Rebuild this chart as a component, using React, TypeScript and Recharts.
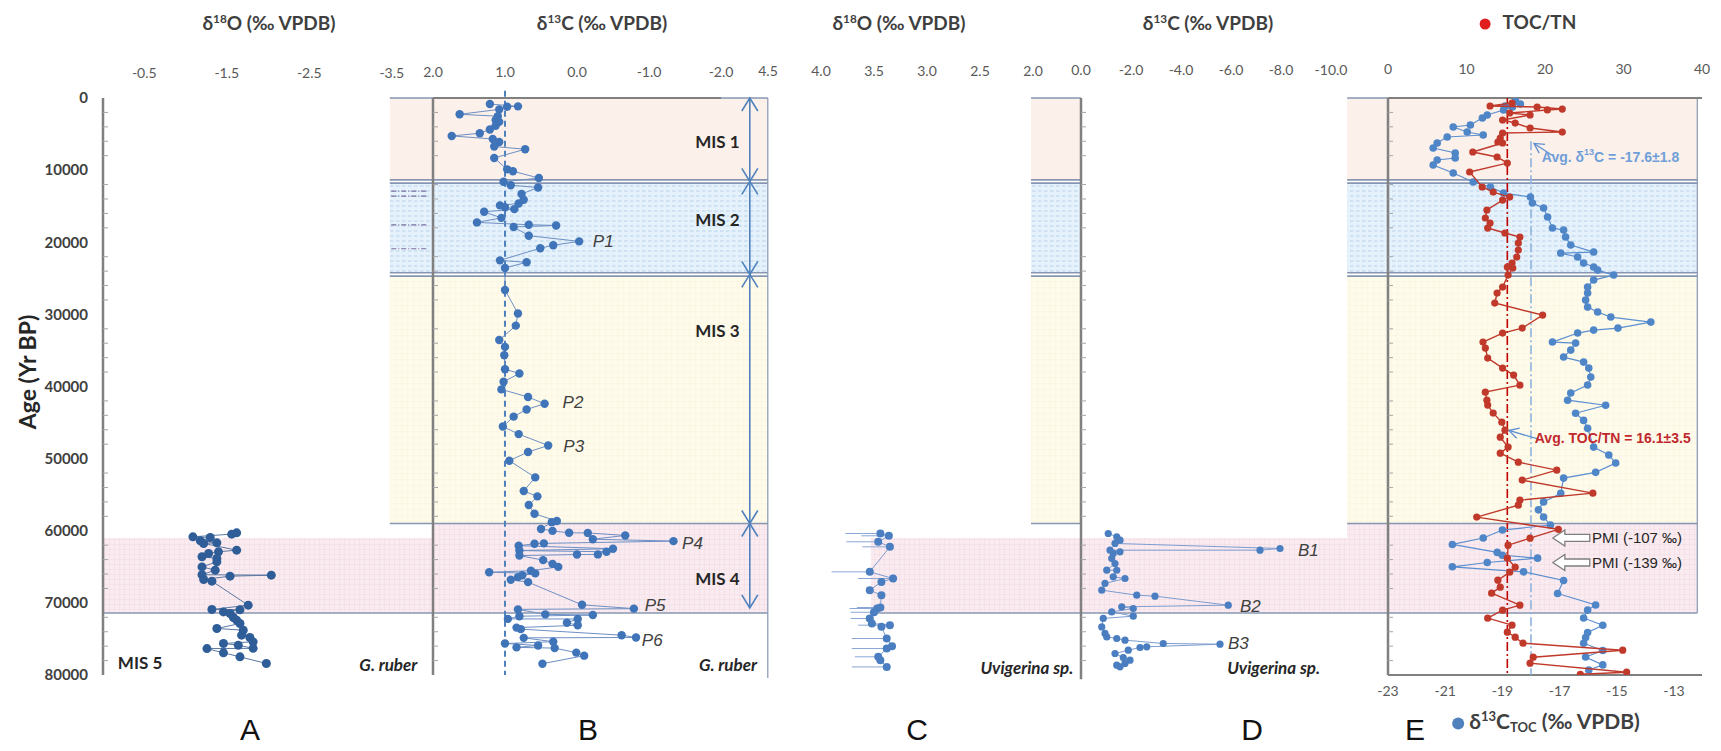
import React from 'react';
import {
  ComposedChart,
  Scatter,
  XAxis,
  YAxis,
  ReferenceArea,
  ReferenceLine,
  ReferenceDot,
  ErrorBar,
} from 'recharts';

// ---------- data ----------
// A: planktic d18O (G. ruber)
const ageA = [60290, 60470, 60840, 60930, 61400, 61680, 61760, 62690, 62920, 63150, 63610, 63840, 64310, 65010, 65460, 66100, 66160, 66300, 66760, 66990, 70320, 70920, 70950, 71250, 71470, 72030, 72400, 72860, 73550, 73790, 74480, 74800, 75400, 75630, 75870, 76300, 76340, 76930, 77480, 78410];
const d18oA = [-1.62, -1.56, -1.09, -1.3, -1.18, -1.38, -1.22, -1.62, -1.4, -1.28, -1.2, -1.38, -1.38, -1.2, -1.36, -1.2, -2.04, -1.54, -1.22, -1.32, -1.76, -1.32, -1.66, -1.46, -1.54, -1.58, -1.62, -1.66, -1.38, -1.7, -1.68, -1.78, -1.82, -1.46, -1.64, -1.82, -1.26, -1.46, -1.66, -1.98];

// B: planktic d13C (G. ruber)
const ageB = [840, 1160, 1210, 1580, 2260, 2520, 3050, 3310, 3840, 4370, 4890, 5260, 5680, 6100, 6730, 7100, 8310, 9890, 10150, 11100, 11620, 12100, 12410, 13310, 14100, 14620, 14890, 15150, 15410, 15780, 16620, 17250, 17570, 17670, 17880, 19090, 19880, 20410, 20830, 22510, 22780, 23560, 26620, 29880, 31560, 33560, 34510, 35660, 37610, 38190, 39340, 40400, 41450, 42400, 43180, 44180, 45550, 46600, 48180, 49080, 50290, 52600, 54490, 55230, 56440, 57650, 58650, 58810, 59750, 60020, 60280, 60300, 60650, 61170, 61440, 61750, 61810, 62070, 62490, 62750, 62910, 63280, 63300, 63440, 64070, 64590, 65010, 65540, 65750, 65910, 66170, 66430, 66800, 67120, 70270, 70800, 70900, 71590, 71690, 71850, 72220, 72240, 72750, 73110, 73430, 73640, 74480, 74800, 74850, 75380, 75640, 75900, 76170, 76270, 76900, 77320, 78430];
const d13cB = [1.21, 0.82, 0.97, 1.08, 1.63, 1.1, 1.13, 1.08, 1.13, 1.21, 1.35, 1.74, 1.17, 1.08, 1.15, 0.72, 1.15, 0.97, 0.89, 0.53, 1.02, 0.92, 0.54, 0.77, 0.74, 0.81, 1.07, 1.0, 0.87, 1.29, 1.05, 1.39, 0.67, 0.29, 0.88, 0.67, -0.03, 0.33, 0.51, 1.07, 0.7, 1.0, 1.0, 0.82, 0.85, 1.08, 1.0, 1.01, 1.0, 0.8, 1.02, 1.05, 0.68, 0.45, 0.7, 0.88, 1.03, 0.81, 0.4, 0.68, 0.94, 0.58, 0.74, 0.55, 0.67, 0.59, 0.28, 0.35, 0.5, 0.34, 0.11, -0.15, -0.67, -0.22, -1.34, 0.46, 0.59, 0.81, -0.5, 0.8, -0.41, -0.29, 0.0, 0.8, 0.47, 0.34, 0.26, 0.64, 1.22, 0.58, 0.76, 0.82, 0.92, 0.68, -0.07, -0.79, 0.82, 0.44, -0.22, 0.8, 0.96, -0.01, 0.14, -0.01, 0.84, 0.78, -0.62, -0.82, 0.74, 0.33, 1.0, 0.54, 0.84, 0.31, 0.01, -0.1, 0.48];

// C: benthic d18O (Uvigerina sp.), with the thin left whiskers
const ageC = [60380, 60700, 61530, 62230, 65700, 66620, 67090, 68240, 68930, 70640, 70780, 71300, 72170, 72860, 73090, 73320, 74940, 76000, 76330, 77480, 77950, 78880];
const d18oC = [3.44, 3.36, 3.46, 3.35, 3.54, 3.32, 3.43, 3.54, 3.43, 3.44, 3.47, 3.5, 3.54, 3.52, 3.35, 3.43, 3.38, 3.33, 3.38, 3.46, 3.44, 3.38];
const spreadC = [0.33, 0.26, 0.3, 0.26, 0.36, 0.33, 0, 0, 0, 0.22, 0.26, 0.22, 0.18, 0, 0.3, 0, 0.33, 0, 0.33, 0.22, 0, 0.33];

// D: benthic d13C (Uvigerina sp.)
const ageD = [60380, 60840, 61300, 61760, 62460, 62690, 62700, 62920, 63150, 63840, 64540, 65460, 65480, 66390, 66620, 67310, 68240, 68930, 69070, 70320, 70550, 70780, 71250, 71840, 72160, 73330, 74240, 74720, 74940, 75170, 75630, 75730, 76090, 76190, 76560, 77020, 77580, 77950, 78400, 78640, 78870];
const d13cD = [-1.09, -1.43, -1.56, -1.36, -7.96, -7.16, -1.16, -1.56, -1.29, -1.23, -1.36, -1.03, -1.43, -1.29, -1.76, -0.96, -0.83, -2.23, -2.96, -5.89, -1.63, -2.09, -1.23, -2.09, -0.89, -0.83, -0.96, -1.03, -1.43, -1.76, -3.29, -5.56, -2.63, -2.36, -1.89, -1.36, -1.69, -1.96, -1.76, -1.43, -1.56];

// E: d13C TOC (blue) and TOC/TN (red)
const ageEc = [420, 830, 1110, 1250, 1660, 2360, 2770, 3740, 4020, 4720, 5130, 5410, 6240, 6930, 7630, 8320, 8600, 9290, 10400, 11650, 12340, 13180, 13730, 14560, 15260, 16500, 18030, 18310, 19280, 20390, 21360, 21500, 22050, 22890, 23440, 23860, 24550, 25240, 26210, 27050, 28020, 28990, 29680, 30370, 31070, 31900, 32180, 32590, 33840, 33980, 34950, 35920, 36620, 37450, 38700, 39800, 40900, 41900, 42600, 43700, 44700, 45800, 48400, 49500, 50600, 51900, 52700, 54800, 56000, 57100, 58100, 59200, 59900, 61000, 61900, 63000, 63400, 63800, 64400, 65000, 65700, 66900, 68700, 70300, 71000, 72100, 73100, 74100, 74800, 75600, 76600, 77500, 78600, 79300];
const d13cToc = [-18.54, -18.37, -18.9, -18.65, -18.96, -19.53, -19.7, -20.12, -20.72, -20.23, -19.67, -20.93, -21.28, -21.42, -20.65, -20.65, -21.28, -21.42, -20.72, -20.02, -19.42, -18.96, -18.02, -17.95, -17.56, -17.42, -17.25, -16.86, -16.79, -16.61, -15.81, -16.96, -16.37, -16.16, -15.81, -15.67, -15.11, -15.81, -16.02, -16.02, -16.09, -16.02, -15.67, -15.21, -13.81, -14.96, -15.81, -16.37, -17.25, -16.44, -16.61, -16.86, -16.16, -15.98, -15.91, -16.02, -16.61, -16.72, -15.39, -16.44, -16.16, -16.02, -15.81, -15.28, -15.04, -15.74, -16.86, -16.96, -17.56, -17.74, -17.56, -17.32, -19.0, -19.67, -20.75, -19.18, -19.0, -17.77, -19.53, -20.75, -18.26, -16.86, -17.07, -15.74, -16.02, -16.16, -15.49, -16.02, -16.09, -16.16, -15.49, -16.09, -15.49, -15.98];
const ageEr = [690, 1110, 1250, 1530, 1660, 2080, 2360, 3050, 3470, 4160, 4720, 4850, 5550, 6100, 6240, 7490, 8180, 9020, 10260, 12340, 13040, 13730, 14150, 15530, 16640, 17340, 18030, 18720, 19280, 20110, 21080, 22050, 22890, 23440, 23580, 24550, 26210, 27050, 28430, 30100, 31900, 32590, 33840, 34670, 36060, 37450, 38420, 39810, 40780, 41890, 42580, 43690, 44940, 46050, 47020, 48400, 49240, 50490, 51600, 52980, 54790, 55760, 56450, 58110, 59800, 61030, 62000, 63800, 65050, 65740, 66850, 67820, 68650, 70320, 71010, 72120, 73090, 74060, 74760, 75590, 76560, 77530, 78360, 79610, 79900];
const tocTn = [15.8, 13.0, 19.0, 22.2, 20.3, 15.5, 18.1, 14.6, 16.2, 18.1, 22.2, 14.6, 14.3, 14.0, 14.6, 10.8, 13.9, 15.2, 10.4, 12.0, 13.4, 15.5, 14.6, 12.6, 12.4, 13.0, 12.7, 14.9, 16.8, 16.6, 16.6, 16.4, 15.8, 15.2, 15.9, 15.3, 14.6, 13.9, 13.6, 19.7, 17.1, 14.6, 12.1, 12.4, 12.7, 14.6, 16.0, 16.8, 12.4, 12.6, 12.7, 13.4, 14.5, 14.9, 14.3, 15.3, 14.3, 16.6, 21.5, 17.1, 26.1, 16.8, 16.6, 11.3, 21.7, 18.1, 15.3, 15.2, 16.2, 15.5, 14.0, 14.3, 13.2, 16.8, 14.6, 12.7, 15.8, 15.2, 16.2, 17.2, 29.9, 18.5, 18.1, 30.4, 24.5];

// tick labels
const ticksAge = [0, 10000, 20000, 30000, 40000, 50000, 60000, 70000, 80000];
const minorAges = [2000, 4000, 6000, 8000, 12000, 14000, 16000, 18000, 22000, 24000, 26000, 28000, 32000, 34000, 36000, 38000, 42000, 44000, 46000, 48000, 52000, 54000, 56000, 58000, 62000, 64000, 66000, 68000, 72000, 74000, 76000, 78000];
const ticksA = [-0.5, -1.5, -2.5, -3.5];
const ticksB = [2, 1, 0, -1, -2];
const ticksC = [4.5, 4, 3.5, 3, 2.5, 2];
const ticksD = [0, -2, -4, -6, -8, -10];
const ticksEt = [0, 10, 20, 30, 40];
const ticksEb = [-23, -21, -19, -17, -15, -13];

// ---------- layout ----------
const W = 1721;
const H = 751;
// plot box is 103..1702 x 98..675; axes take 1px each (5 on top, 1 bottom, 1 left)
const margin = { top: 93, right: 19, bottom: 75, left: 102 };
const plotLeft = 103;
const plotW = 1599;

// every panel has its own x axis spread over the whole plot; value v0 lands on pixel px
const revDomain = (v0: number, px: number, ppu: number): [number, number] => {
  const hi = v0 + (px - plotLeft) / ppu;
  return [hi - plotW / ppu, hi];
};
const fwdDomain = (v0: number, px: number, ppu: number): [number, number] => {
  const lo = v0 - (px - plotLeft) / ppu;
  return [lo, lo + plotW / ppu];
};
const domA = revDomain(0, 103, 82.5);
const domB = revDomain(2, 433, 72);
const domC = revDomain(4.5, 768, 106);
const domD = revDomain(0, 1081, 25);
const domEt = fwdDomain(0, 1388, 7.85);
const domEb = fwdDomain(-23, 1388, 28.6);

const zip = (ages: number[], vals: number[]) =>
  ages.slice(0, Math.min(ages.length, vals.length)).map((age, i) => ({ age, v: vals[i] }));

const dataA = zip(ageA, d18oA);
const dataB = zip(ageB, d13cB);
const dataC = zip(ageC, d18oC).map((d, i) => ({ ...d, w: [0, spreadC[i] ?? 0] }));
const dataD = zip(ageD, d13cD);
const dataEc = zip(ageEc, d13cToc);
const dataEr = zip(ageEr, tocTn);
const minorAt = (v: number) => minorAges.map((age) => ({ age, v }));

const tickFont = { fontSize: 14, fill: '#595959', fontFamily: 'Lato, sans-serif' };
const f1 = (v: number) => v.toFixed(1);

const dot = (r: number, fill: string) => (p: any) => <circle cx={p.cx} cy={p.cy} r={r} fill={fill} />;
const minorTick = (p: any) => (
  <line x1={p.cx} y1={p.cy} x2={p.cx + 5} y2={p.cy} stroke="#a6a6a6" strokeWidth={1} />
);

const dblArrow = (p: any) => {
  const { x1, y1, x2, y2 } = p;
  const w = 8;
  const h = 13;
  return (
    <g stroke="#4f81bd" strokeWidth={1.6} fill="none">
      <line x1={x1} y1={y1} x2={x2} y2={y2} />
      <polyline points={`${x1 - w},${y1 + h} ${x1},${y1} ${x1 + w},${y1 + h}`} />
      <polyline points={`${x2 - w},${y2 - h} ${x2},${y2} ${x2 + w},${y2 - h}`} />
    </g>
  );
};

const thinArrow = (color: string) => (p: any) => {
  const { x1, y1, x2, y2 } = p;
  const a = Math.atan2(y2 - y1, x2 - x1);
  const L = 11;
  const s = 0.5;
  const w1 = `${x2 - L * Math.cos(a - s)},${y2 - L * Math.sin(a - s)}`;
  const w2 = `${x2 - L * Math.cos(a + s)},${y2 - L * Math.sin(a + s)}`;
  return (
    <g stroke={color} strokeWidth={1.3} fill="none">
      <line x1={x1} y1={y1} x2={x2} y2={y2} />
      <polyline points={`${w1} ${x2},${y2} ${w2}`} />
    </g>
  );
};

const hollowArrow = (p: any) => {
  const { x1, y1, x2 } = p;
  const y = y1;
  const hl = 12;
  const pts = [
    [x2, y],
    [x2 + hl, y - 8],
    [x2 + hl, y - 3.5],
    [x1, y - 3.5],
    [x1, y + 3.5],
    [x2 + hl, y + 3.5],
    [x2 + hl, y + 8],
  ]
    .map((q) => q.join(','))
    .join(' ');
  return <polygon points={pts} fill="#ffffff" stroke="#7f7f7f" strokeWidth={1.3} />;
};

const textAt =
  (content: React.ReactNode, style: React.CSSProperties, anchor: 'start' | 'middle' | 'end' = 'start') =>
  (p: any) => (
    <text x={p.cx} y={p.cy} textAnchor={anchor} dominantBaseline="central" style={style}>
      {content}
    </text>
  );

const misStyle = { fontSize: 17, fontWeight: 700, fill: '#262626', fontFamily: 'Lato, sans-serif' };
const pStyle = { fontSize: 17, fontStyle: 'italic', fill: '#404040', fontFamily: '"Liberation Sans", Arial, sans-serif' };
const spStyle = { fontSize: 17, fontStyle: 'italic', fontWeight: 700, fill: '#262626', fontFamily: 'Lato, sans-serif' };
const pmiStyle = { fontSize: 15, fill: '#262626', fontFamily: '"Liberation Sans", Arial, sans-serif' };

const bandLine = '#8797b2';
const axisGrey = '#808080';

// horizontal band segments in the three framed strips (B, D strip, E)
const frames: { id: string; x1: number; x2: number }[] = [
  { id: 'b', x1: 2.6, x2: -2.65 },
  { id: 'd', x1: 2, x2: 0 },
  { id: 'et', x1: -5.2, x2: 39.4 },
];
const bandRows = [
  { y1: 0, y2: 11350, fill: '#fcf0ea' },
  { y1: 11800, y2: 24230, fill: '#e5f1fb' },
  { y1: 24690, y2: 59000, fill: '#fefbeb' },
];
const boundaryAges = [0, 11350, 11800, 24230, 24690, 59000];

const Html = ({ x, y, style, children }: { x: number; y: number; style?: React.CSSProperties; children: React.ReactNode }) => (
  <div
    style={{
      position: 'absolute',
      left: x,
      top: y,
      transform: 'translate(-50%, -50%)',
      whiteSpace: 'nowrap',
      lineHeight: 1,
      ...style,
    }}
  >
    {children}
  </div>
);

const titleStyle: React.CSSProperties = { fontFamily: 'Lato, sans-serif', fontWeight: 700, fontSize: 19, color: '#3f3f3f' };
const letterStyle: React.CSSProperties = { fontFamily: '"Liberation Sans", Arial, sans-serif', fontSize: 30, color: '#111' };
const supS: React.CSSProperties = { fontSize: '0.62em', verticalAlign: '0.55em' };

const topAxis = {
  type: 'number' as const,
  dataKey: 'v',
  allowDataOverflow: true,
  orientation: 'top' as const,
  height: 1,
  interval: 0 as const,
  axisLine: false,
  tickLine: false,
  tickSize: 0,
  tickMargin: 20,
  tick: tickFont,
};

export default function App() {
  return (
    <div style={{ position: 'absolute', left: 0, top: 0, width: W, height: H, background: '#fff' }}>
      <ComposedChart width={W} height={H} margin={margin}>
        <defs>
          <pattern id="dots2" width="6" height="5" patternUnits="userSpaceOnUse">
            <rect x="0" y="0" width="3.5" height="2" fill="#cfe2f4" />
          </pattern>
          <pattern id="grid4" width="5" height="5" patternUnits="userSpaceOnUse">
            <path d="M5 0 V5 M0 5 H5" stroke="#efd6df" strokeWidth="0.8" fill="none" />
          </pattern>
          <pattern id="grid3" width="6" height="6" patternUnits="userSpaceOnUse">
            <path d="M6 0 V6 M0 6 H6" stroke="#f6efd2" strokeWidth="0.6" fill="none" />
          </pattern>
        </defs>

        <YAxis
          yAxisId="age"
          type="number"
          dataKey="age"
          domain={[0, 80000]}
          reversed
          allowDataOverflow
          width={1}
          ticks={ticksAge}
          interval={0}
          tickLine={false}
          tickSize={0}
          tickMargin={15}
          axisLine={{ stroke: axisGrey, strokeWidth: 2.5 }}
          tick={{ fontSize: 15, fill: '#404040', fontWeight: 700, fontFamily: 'Lato, sans-serif' }}
        />
        <XAxis xAxisId="a" {...topAxis} domain={domA} reversed ticks={ticksA} tickFormatter={f1} />
        <XAxis xAxisId="b" {...topAxis} domain={domB} reversed ticks={ticksB} tickFormatter={f1} />
        <XAxis xAxisId="c" {...topAxis} domain={domC} reversed ticks={ticksC} tickFormatter={f1} />
        <XAxis xAxisId="d" {...topAxis} domain={domD} reversed ticks={ticksD} tickFormatter={f1} />
        <XAxis xAxisId="et" {...topAxis} domain={domEt} ticks={ticksEt} />
        <XAxis xAxisId="eb" {...topAxis} orientation="bottom" domain={domEb} ticks={ticksEb} tickMargin={11} />

        {/* MIS backgrounds */}
        {frames.map((f) =>
          bandRows.map((r, i) => (
            <ReferenceArea key={`bg-${f.id}-${i}`} xAxisId={f.id} yAxisId="age" x1={f.x1} x2={f.x2} y1={r.y1} y2={r.y2} fill={r.fill} fillOpacity={1} stroke="none" ifOverflow="visible" />
          ))
        )}
        {frames.map((f) => (
          <ReferenceArea key={`p2-${f.id}`} xAxisId={f.id} yAxisId="age" x1={f.x1} x2={f.x2} y1={11800} y2={24230} fill="url(#dots2)" fillOpacity={1} stroke="none" ifOverflow="visible" />
        ))}
        {frames.map((f) => (
          <ReferenceArea key={`p3-${f.id}`} xAxisId={f.id} yAxisId="age" x1={f.x1} x2={f.x2} y1={24690} y2={59000} fill="url(#grid3)" fillOpacity={1} stroke="none" ifOverflow="visible" />
        ))}
        {/* MIS 4 pink */}
        <ReferenceArea xAxisId="a" yAxisId="age" x1={0} x2={-4} y1={61000} y2={71400} fill="#f9ebef" fillOpacity={1} stroke="none" ifOverflow="visible" />
        <ReferenceArea xAxisId="b" yAxisId="age" x1={2} x2={-2.65} y1={59000} y2={71400} fill="#f9ebef" fillOpacity={1} stroke="none" ifOverflow="visible" />
        <ReferenceArea xAxisId="c" yAxisId="age" x1={3.53} x2={1.55} y1={61000} y2={71400} fill="#f9ebef" fillOpacity={1} stroke="none" ifOverflow="visible" />
        <ReferenceArea xAxisId="d" yAxisId="age" x1={0} x2={-10.64} y1={61000} y2={71400} fill="#f9ebef" fillOpacity={1} stroke="none" ifOverflow="visible" />
        <ReferenceArea xAxisId="et" yAxisId="age" x1={-5.2} x2={39.4} y1={59000} y2={71400} fill="#f9ebef" fillOpacity={1} stroke="none" ifOverflow="visible" />
        <ReferenceArea xAxisId="a" yAxisId="age" x1={0} x2={-4} y1={61000} y2={71400} fill="url(#grid4)" fillOpacity={1} stroke="none" ifOverflow="visible" />
        <ReferenceArea xAxisId="b" yAxisId="age" x1={2} x2={-2.65} y1={59000} y2={71400} fill="url(#grid4)" fillOpacity={1} stroke="none" ifOverflow="visible" />
        <ReferenceArea xAxisId="c" yAxisId="age" x1={3.53} x2={1.55} y1={61000} y2={71400} fill="url(#grid4)" fillOpacity={1} stroke="none" ifOverflow="visible" />
        <ReferenceArea xAxisId="d" yAxisId="age" x1={0} x2={-10.64} y1={61000} y2={71400} fill="url(#grid4)" fillOpacity={1} stroke="none" ifOverflow="visible" />
        <ReferenceArea xAxisId="et" yAxisId="age" x1={-5.2} x2={39.4} y1={59000} y2={71400} fill="url(#grid4)" fillOpacity={1} stroke="none" ifOverflow="visible" />

        {/* band boundaries */}
        {frames.map((f) =>
          boundaryAges.map((a) => (
            <ReferenceLine key={`bl-${f.id}-${a}`} xAxisId={f.id} yAxisId="age" segment={[{ x: f.x1, y: a }, { x: f.x2, y: a }]} stroke={bandLine} strokeWidth={1.6} ifOverflow="visible" />
          ))
        )}
        <ReferenceLine xAxisId="b" yAxisId="age" segment={[{ x: 6.58, y: 71400 }, { x: -2.65, y: 71400 }]} stroke={bandLine} strokeWidth={1.6} ifOverflow="visible" />
        <ReferenceLine xAxisId="et" yAxisId="age" segment={[{ x: -66, y: 71400 }, { x: 39.4, y: 71400 }]} stroke={bandLine} strokeWidth={1.6} ifOverflow="visible" />
        <ReferenceLine xAxisId="b" yAxisId="age" segment={[{ x: -2.65, y: 0 }, { x: -2.65, y: 80400 }]} stroke={bandLine} strokeWidth={1.2} ifOverflow="visible" />
        <ReferenceLine xAxisId="et" yAxisId="age" segment={[{ x: 39.4, y: 0 }, { x: 39.4, y: 71400 }]} stroke={bandLine} strokeWidth={1.2} ifOverflow="visible" />
        {[12900, 13600, 17600, 20900].map((a) => (
          <ReferenceLine key={`dd-${a}`} xAxisId="b" yAxisId="age" segment={[{ x: 2.58, y: a }, { x: 2.08, y: a }]} stroke="#7a6f9f" strokeWidth={1.2} strokeDasharray="5 2 1 2" ifOverflow="visible" />
        ))}

        {/* panel axes */}
        <ReferenceLine xAxisId="b" yAxisId="age" segment={[{ x: 2, y: 0 }, { x: 2, y: 80000 }]} stroke={axisGrey} strokeWidth={2.5} ifOverflow="visible" />
        <ReferenceLine xAxisId="b" yAxisId="age" segment={[{ x: 2, y: 0 }, { x: -2, y: 0 }]} stroke={axisGrey} strokeWidth={2} ifOverflow="visible" />
        <ReferenceLine xAxisId="d" yAxisId="age" segment={[{ x: 0, y: 0 }, { x: 0, y: 80600 }]} stroke={axisGrey} strokeWidth={2.5} ifOverflow="visible" />
        <ReferenceLine xAxisId="et" yAxisId="age" segment={[{ x: 0, y: 0 }, { x: 0, y: 80000 }]} stroke={axisGrey} strokeWidth={2.5} ifOverflow="visible" />
        <ReferenceLine xAxisId="et" yAxisId="age" segment={[{ x: 0, y: 0 }, { x: 40, y: 0 }]} stroke={axisGrey} strokeWidth={2} ifOverflow="visible" />
        <ReferenceLine xAxisId="et" yAxisId="age" segment={[{ x: 0, y: 80000 }, { x: 40, y: 80000 }]} stroke={axisGrey} strokeWidth={2} ifOverflow="visible" />

        {/* averages */}
        <ReferenceLine xAxisId="b" yAxisId="age" segment={[{ x: 1, y: -1000 }, { x: 1, y: 80000 }]} stroke="#4f81bd" strokeWidth={2} strokeDasharray="6 4" ifOverflow="visible" />
        <ReferenceLine xAxisId="et" yAxisId="age" segment={[{ x: 15.2, y: 0 }, { x: 15.2, y: 80000 }]} stroke="#c00000" strokeWidth={1.6} strokeDasharray="9 3 2 3" ifOverflow="visible" />
        <ReferenceLine xAxisId="eb" yAxisId="age" segment={[{ x: -18.0, y: 6000 }, { x: -18.0, y: 80000 }]} stroke="#8fb3de" strokeWidth={1.6} strokeDasharray="9 3 2 3" ifOverflow="visible" />

        {/* MIS arrows */}
        <ReferenceLine xAxisId="b" yAxisId="age" segment={[{ x: -2.4, y: 0 }, { x: -2.4, y: 11570 }]} shape={dblArrow} ifOverflow="visible" />
        <ReferenceLine xAxisId="b" yAxisId="age" segment={[{ x: -2.4, y: 11570 }, { x: -2.4, y: 24460 }]} shape={dblArrow} ifOverflow="visible" />
        <ReferenceLine xAxisId="b" yAxisId="age" segment={[{ x: -2.4, y: 24460 }, { x: -2.4, y: 59000 }]} shape={dblArrow} ifOverflow="visible" />
        <ReferenceLine xAxisId="b" yAxisId="age" segment={[{ x: -2.4, y: 59000 }, { x: -2.4, y: 70700 }]} shape={dblArrow} ifOverflow="visible" />

        {/* minor ticks on the vertical axes */}
        <Scatter xAxisId="a" yAxisId="age" data={minorAt(0)} shape={minorTick} isAnimationActive={false} />
        <Scatter xAxisId="b" yAxisId="age" data={minorAt(2)} shape={minorTick} isAnimationActive={false} />
        <Scatter xAxisId="d" yAxisId="age" data={minorAt(0)} shape={minorTick} isAnimationActive={false} />
        <Scatter xAxisId="et" yAxisId="age" data={minorAt(0)} shape={minorTick} isAnimationActive={false} />

        {/* series */}
        <Scatter xAxisId="a" yAxisId="age" data={dataA} line={{ stroke: '#5a78a3', strokeWidth: 1 }} shape={dot(4.5, '#2f5d98')} isAnimationActive={false} />
        <Scatter xAxisId="b" yAxisId="age" data={dataB} line={{ stroke: '#6d8fc4', strokeWidth: 1 }} shape={dot(4.2, '#3f74b9')} isAnimationActive={false} />
        <Scatter xAxisId="c" yAxisId="age" data={dataC} line={{ stroke: '#7d9ccf', strokeWidth: 1 }} shape={dot(4, '#4a7ec0')} isAnimationActive={false}>
          <ErrorBar dataKey="w" direction="x" width={0} stroke="#8aa6d6" strokeWidth={1} />
        </Scatter>
        <Scatter xAxisId="d" yAxisId="age" data={dataD} line={{ stroke: '#7d9ccf', strokeWidth: 1 }} shape={dot(3.6, '#4a7ec0')} isAnimationActive={false} />
        <Scatter xAxisId="eb" yAxisId="age" data={dataEc} line={{ stroke: '#5b8fd0', strokeWidth: 1.2 }} shape={dot(3.8, '#4f86c8')} isAnimationActive={false} />
        <Scatter xAxisId="et" yAxisId="age" data={dataEr} line={{ stroke: '#c0392b', strokeWidth: 1.4 }} shape={dot(3.6, '#c0392b')} isAnimationActive={false} />

        {/* annotation arrows */}
        <ReferenceLine xAxisId="et" yAxisId="age" segment={[{ x: 21.0, y: 8000 }, { x: 18.6, y: 6300 }]} shape={thinArrow('#5b8fd0')} ifOverflow="visible" />
        <ReferenceLine xAxisId="et" yAxisId="age" segment={[{ x: 19.2, y: 47300 }, { x: 15.4, y: 46100 }]} shape={thinArrow('#5b8fd0')} ifOverflow="visible" />
        <ReferenceLine xAxisId="et" yAxisId="age" segment={[{ x: 25.7, y: 61000 }, { x: 21.0, y: 61000 }]} shape={hollowArrow} ifOverflow="visible" />
        <ReferenceLine xAxisId="et" yAxisId="age" segment={[{ x: 25.7, y: 64400 }, { x: 21.0, y: 64400 }]} shape={hollowArrow} ifOverflow="visible" />

        {/* text */}
        <ReferenceDot xAxisId="b" yAxisId="age" x={-1.95} y={6100} r={1} ifOverflow="visible" shape={textAt('MIS 1', misStyle, 'middle')} />
        <ReferenceDot xAxisId="b" yAxisId="age" x={-1.95} y={16900} r={1} ifOverflow="visible" shape={textAt('MIS 2', misStyle, 'middle')} />
        <ReferenceDot xAxisId="b" yAxisId="age" x={-1.95} y={32300} r={1} ifOverflow="visible" shape={textAt('MIS 3', misStyle, 'middle')} />
        <ReferenceDot xAxisId="b" yAxisId="age" x={-1.95} y={66600} r={1} ifOverflow="visible" shape={textAt('MIS 4', misStyle, 'middle')} />
        <ReferenceDot xAxisId="a" yAxisId="age" x={-0.18} y={78200} r={1} ifOverflow="visible" shape={textAt('MIS 5', misStyle)} />
        <ReferenceDot xAxisId="b" yAxisId="age" x={-0.22} y={19900} r={1} ifOverflow="visible" shape={textAt('P1', pStyle)} />
        <ReferenceDot xAxisId="b" yAxisId="age" x={0.2} y={42200} r={1} ifOverflow="visible" shape={textAt('P2', pStyle)} />
        <ReferenceDot xAxisId="b" yAxisId="age" x={0.19} y={48300} r={1} ifOverflow="visible" shape={textAt('P3', pStyle)} />
        <ReferenceDot xAxisId="b" yAxisId="age" x={-1.46} y={61700} r={1} ifOverflow="visible" shape={textAt('P4', pStyle)} />
        <ReferenceDot xAxisId="b" yAxisId="age" x={-0.94} y={70300} r={1} ifOverflow="visible" shape={textAt('P5', pStyle)} />
        <ReferenceDot xAxisId="b" yAxisId="age" x={-0.9} y={75200} r={1} ifOverflow="visible" shape={textAt('P6', pStyle)} />
        <ReferenceDot xAxisId="a" yAxisId="age" x={-3.81} y={78600} r={1} ifOverflow="visible" shape={textAt('G. ruber', spStyle, 'end')} />
        <ReferenceDot xAxisId="b" yAxisId="age" x={-2.5} y={78600} r={1} ifOverflow="visible" shape={textAt('G. ruber', spStyle, 'end')} />
        <ReferenceDot xAxisId="c" yAxisId="age" x={1.62} y={78900} r={1} ifOverflow="visible" shape={textAt('Uvigerina sp.', spStyle, 'end')} />
        <ReferenceDot xAxisId="d" yAxisId="age" x={-9.56} y={78900} r={1} ifOverflow="visible" shape={textAt('Uvigerina sp.', spStyle, 'end')} />
        <ReferenceDot xAxisId="d" yAxisId="age" x={-8.68} y={62700} r={1} ifOverflow="visible" shape={textAt('B1', pStyle)} />
        <ReferenceDot xAxisId="d" yAxisId="age" x={-6.36} y={70500} r={1} ifOverflow="visible" shape={textAt('B2', pStyle)} />
        <ReferenceDot xAxisId="d" yAxisId="age" x={-5.88} y={75700} r={1} ifOverflow="visible" shape={textAt('B3', pStyle)} />
        <ReferenceDot
          xAxisId="et"
          yAxisId="age"
          x={19.6}
          y={8200}
          r={1}
          ifOverflow="visible"
          shape={textAt(
            <>
              Avg. δ<tspan dy={-5} fontSize={9}>13</tspan>
              <tspan dy={5}>C = -17.6±1.8</tspan>
            </>,
            { fontSize: 14, fontWeight: 700, fill: '#6f9fd8', fontFamily: '"Liberation Sans", Arial, sans-serif' }
          )}
        />
        <ReferenceDot xAxisId="et" yAxisId="age" x={18.7} y={47200} r={1} ifOverflow="visible" shape={textAt('Avg. TOC/TN = 16.1±3.5', { fontSize: 14, fontWeight: 700, fill: '#c0282d', fontFamily: '"Liberation Sans", Arial, sans-serif' })} />
        <ReferenceDot xAxisId="et" yAxisId="age" x={26.0} y={61000} r={1} ifOverflow="visible" shape={textAt('PMI (-107 ‰)', pmiStyle)} />
        <ReferenceDot xAxisId="et" yAxisId="age" x={26.0} y={64400} r={1} ifOverflow="visible" shape={textAt('PMI (-139 ‰)', pmiStyle)} />
      </ComposedChart>

      {/* titles, letters and legends */}
      <Html x={269} y={22} style={titleStyle}>
        δ<span style={supS}>18</span>O (‰ VPDB)
      </Html>
      <Html x={602} y={22} style={titleStyle}>
        δ<span style={supS}>13</span>C (‰ VPDB)
      </Html>
      <Html x={899} y={22} style={titleStyle}>
        δ<span style={supS}>18</span>O (‰ VPDB)
      </Html>
      <Html x={1208} y={22} style={titleStyle}>
        δ<span style={supS}>13</span>C (‰ VPDB)
      </Html>
      <Html x={1528} y={21} style={titleStyle}>
        <span style={{ display: 'inline-block', width: 11, height: 11, borderRadius: 6, background: '#e01f1f', marginRight: 12, verticalAlign: 'middle' }} />
        TOC/TN
      </Html>
      <Html x={27} y={372} style={{ ...titleStyle, fontSize: 23, color: '#262626', transform: 'translate(-50%, -50%) rotate(-90deg)' }}>
        Age (Yr BP)
      </Html>
      <Html x={250} y={730} style={letterStyle}>A</Html>
      <Html x={588} y={730} style={letterStyle}>B</Html>
      <Html x={917} y={730} style={letterStyle}>C</Html>
      <Html x={1252} y={730} style={letterStyle}>D</Html>
      <Html x={1415} y={730} style={letterStyle}>E</Html>
      <Html x={1546} y={722} style={{ ...titleStyle, fontSize: 21 }}>
        <span style={{ display: 'inline-block', width: 12, height: 12, borderRadius: 6, background: '#4f81bd', marginRight: 5, verticalAlign: 'middle' }} />
        δ<span style={supS}>13</span>C<span style={{ fontSize: '0.62em', verticalAlign: '-0.3em' }}>TOC</span> (‰ VPDB)
      </Html>
    </div>
  );
}
